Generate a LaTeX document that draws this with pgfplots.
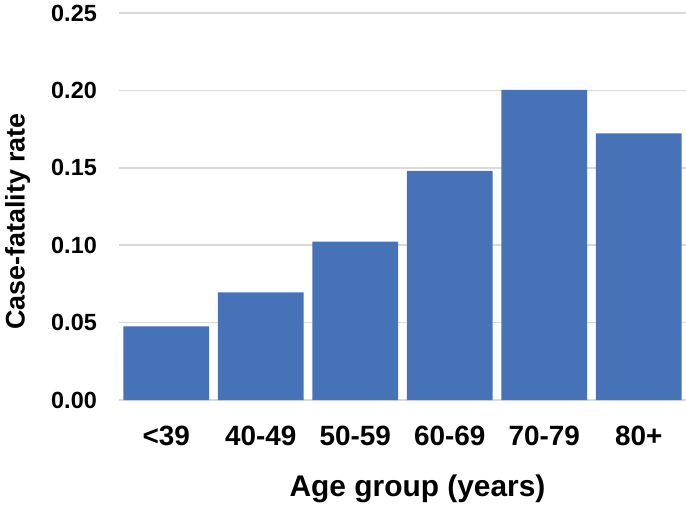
\documentclass[border=0pt]{standalone}
\usepackage{pgfplots}
\pgfplotsset{compat=1.18}
\usepackage{fontspec}
\setmainfont{Liberation Sans}
\definecolor{barblue}{RGB}{70,114,184}
\definecolor{gridgray}{RGB}{217,217,217}
\begin{document}
\begin{tikzpicture}
\begin{axis}[
  scale only axis,
  width=567bp, height=387bp,
  at={(0,0)}, anchor=south west,
  xmin=-0.5, xmax=5.5,
  ymin=0, ymax=0.25,
  ytick={0,0.05,0.10,0.15,0.20,0.25},
  xtick={0,1,2,3,4,5},
  xticklabels={<39,40-49,50-59,60-69,70-79,80+},
  axis line style={draw=none},
  major tick length=0pt,
  ymajorgrids,
  grid style={gridgray, line width=1.5bp},
  y tick label style={/pgf/number format/.cd, fixed, fixed zerofill, precision=2, /tikz/.cd, font=\fontsize{23.5}{25}\selectfont\bfseries, inner sep=0pt},
  yticklabel shift=22bp,
  /pgf/number format/assume math mode=true,
  x tick label style={font=\fontsize{28}{30}\selectfont\bfseries, inner sep=0pt},
  xticklabel shift=26bp,
  xlabel={Age group (years)},
  ylabel={Case-fatality rate},
  xlabel style={at={(axis description cs:0.5265,-0.194)}, anchor=north, inner sep=0pt, font=\fontsize{30}{32}\selectfont\bfseries},
  ylabel style={at={(axis description cs:-0.201,0.461)}, anchor=north, inner sep=0pt, font=\fontsize{27}{29}\selectfont\bfseries},
  clip=false,
]
\addplot[ybar, bar width=0.91, fill=barblue, draw=none] coordinates {
  (0,0.0475) (1,0.0695) (2,0.1023) (3,0.1480) (4,0.2003) (5,0.1723)
};
\end{axis}
\pgfresetboundingbox
\path[use as bounding box] (-119bp,-107bp) rectangle (567bp,400bp);
\end{tikzpicture}
\end{document}
